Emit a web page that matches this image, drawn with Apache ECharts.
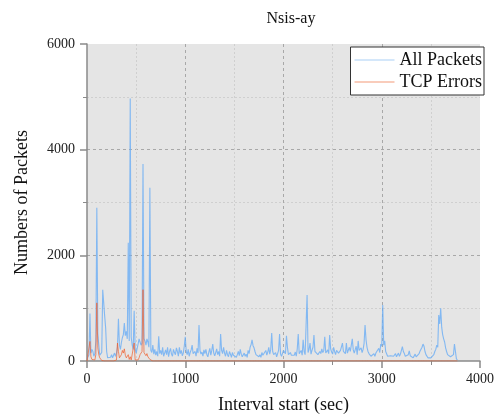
<!DOCTYPE html>
<html>
<head>
<meta charset="utf-8">
<script src="https://cdn.jsdelivr.net/npm/echarts@6/dist/echarts.min.js"></script>
<style>
  html, body { margin: 0; padding: 0; background: #ffffff; }
  #chart { width: 500px; height: 416px; }
</style>
</head>
<body>
<div id="chart"></div>
<script>
// Sampling step of the capture (seconds per interval)
const intervalStep = 10;

// All packets per interval, one row per 100 s
const allPackets = [
  40, 60, 120, 900, 150, 220, 180, 90, 140, 380,
  2900, 520, 300, 110, 80, 160, 1350, 1100, 850, 620,
  180, 60, 90, 50, 70, 120, 60, 80, 150, 90,
  150, 260, 800, 300, 220, 350, 440, 500, 720, 480,
  560, 420, 2240, 380, 4970, 450, 300, 220, 950, 240,
  150, 180, 320, 420, 360, 300, 340, 3730, 420, 380,
  300, 420, 360, 260, 3280, 200, 160, 300, 130, 220,
  110, 180, 90, 470, 140, 200, 120, 260, 90, 150,
  210, 120, 260, 80, 180, 240, 130, 90, 220, 160,
  120, 250, 180, 90, 260, 140, 200, 100, 150, 280,
  460, 180, 120, 220, 90, 160, 210, 300, 140, 110,
  180, 90, 240, 150, 680, 200, 130, 170, 90, 210,
  140, 220, 120, 80, 170, 240, 110, 200, 320, 150,
  100, 160, 230, 120, 180, 90, 510, 200, 140, 260,
  150, 90, 200, 120, 80, 180, 130, 70, 160, 110,
  90, 140, 70, 120, 180, 100, 220, 130, 80, 110,
  150, 90, 130, 70, 200, 140, 260, 310, 400, 290,
  250, 180, 120, 90, 140, 80, 120, 70, 160, 110,
  90, 140, 200, 110, 170, 260, 130, 220, 530, 180,
  120, 90, 160, 80, 140, 200, 510, 130, 90, 110,
  200, 180, 140, 475, 260, 120, 90, 160, 110, 80,
  140, 110, 170, 90, 230, 510, 140, 120, 200, 110,
  400, 180, 120, 90, 1250, 160, 220, 340, 130, 200,
  260, 490, 180, 150, 210, 120, 90, 180, 140, 230,
  160, 200, 460, 150, 180, 210, 140, 490, 230, 170,
  130, 260, 180, 120, 200, 230, 150, 140, 200, 220,
  340, 180, 210, 140, 340, 150, 120, 260, 180, 300,
  420, 210, 150, 180, 280, 120, 380, 200, 170, 250,
  160, 220, 330, 680, 400, 260, 180, 140, 120, 90,
  110, 80, 140, 90, 150, 120, 180, 240, 160, 320,
  280, 1060, 300, 380, 180, 150, 90, 120, 80, 100,
  70, 120, 90, 60, 140, 80, 110, 150, 90, 130,
  200, 270, 180, 140, 90, 110, 80, 120, 190, 100,
  70, 110, 60, 90, 130, 80, 60, 110, 140, 190,
  220, 260, 320, 280, 180, 120, 90, 60, 80, 50,
  60, 90, 70, 120, 180, 220, 300, 260, 870, 700,
  1000, 640, 500, 420, 360, 250, 180, 120, 90, 140,
  80, 100, 60, 120, 320, 180, 40, 20
];

// TCP errors per interval, one row per 100 s
const tcpErrors = [
  0, 10, 30, 370, 80, 30, 10, 0, 20, 120,
  1100, 250, 120, 60, 30, 10, 20, 10, 0, 0,
  0, 0, 0, 0, 0, 10, 0, 0, 0, 0,
  20, 340, 180, 60, 90, 120, 200, 150, 230, 110,
  60, 40, 120, 30, 80, 20, 10, 0, 340, 20,
  10, 0, 20, 60, 120, 150, 180, 1350, 160, 130,
  100, 140, 80, 50, 30, 20, 10, 0, 0, 0,
  0, 0, 0, 0, 0, 0, 0, 0, 0, 0,
  0, 0, 0, 0, 0, 0, 0, 0, 0, 0,
  0, 0, 0, 0, 0, 0, 0, 0, 0, 0,
  0, 0, 0, 0, 0, 0, 0, 0, 0, 0,
  0, 0, 0, 0, 0, 0, 0, 0, 0, 0,
  0, 0, 0, 0, 0, 0, 0, 0, 0, 0,
  0, 0, 0, 0, 0, 0, 0, 0, 0, 0,
  0, 0, 0, 0, 0, 0, 0, 0, 0, 0,
  0, 0, 0, 0, 0, 0, 0, 0, 0, 0,
  0, 0, 0, 0, 0, 0, 0, 0, 0, 0,
  0, 0, 0, 0, 0, 0, 0, 0, 0, 0,
  0, 0, 0, 0, 0, 0, 0, 0, 0, 0,
  0, 0, 0, 0, 0, 0, 0, 0, 0, 0,
  0, 0, 0, 0, 0, 0, 0, 0, 0, 0,
  0, 0, 0, 0, 0, 0, 0, 0, 0, 0,
  0, 0, 0, 0, 0, 0, 0, 0, 0, 0,
  0, 0, 0, 0, 0, 0, 0, 0, 0, 0,
  0, 0, 0, 0, 0, 0, 0, 0, 0, 0,
  0, 0, 0, 0, 0, 0, 0, 0, 0, 0,
  0, 0, 0, 0, 0, 0, 0, 0, 0, 0,
  0, 0, 0, 0, 0, 0, 0, 0, 0, 0,
  0, 0, 0, 0, 0, 0, 0, 0, 0, 0,
  0, 0, 0, 0, 0, 0, 0, 0, 0, 0,
  0, 0, 0, 0, 0, 0, 0, 0, 0, 0,
  0, 0, 0, 0, 0, 0, 0, 0, 0, 0,
  0, 0, 0, 0, 0, 0, 0, 0, 0, 0,
  0, 0, 0, 0, 0, 0, 0, 0, 0, 0,
  0, 0, 0, 0, 0, 0, 0, 0, 0, 0,
  0, 0, 0, 0, 0, 0, 0, 0, 0, 0,
  0, 0, 0, 0, 0, 0, 0, 0, 0, 0,
  0, 0, 0, 0, 0, 0, 0, 0
];

const seriesNames = ['All Packets', 'TCP Errors'];
const titleText = 'Nsis-ay';
const xAxisTitle = 'Interval start (sec)';
const yAxisTitle = 'Numbers of Packets';

const serif = '"Liberation Serif", "DejaVu Serif", serif';
const gridMajor = '#a8a8a8';
const hidden = 'rgba(0,0,0,0)';

function toPoints(values) {
  return values.map((v, i) => [i * intervalStep, v]);
}

const chart = echarts.init(document.getElementById('chart'), null, { renderer: 'canvas' });

chart.setOption({
  animation: false,
  backgroundColor: '#ffffff',
  textStyle: { fontFamily: serif },
  title: {
    text: titleText,
    left: 286,
    textAlign: 'center',
    top: 6,
    textStyle: { fontFamily: serif, fontSize: 16, fontWeight: 'normal', color: '#111' }
  },
  legend: {
    orient: 'vertical',
    right: 16,
    top: 47,
    itemWidth: 40,
    itemHeight: 1,
    itemGap: 4,
    padding: [4, 2, 4, 4],
    backgroundColor: '#ffffff',
    borderColor: '#333333',
    borderWidth: 1,
    borderRadius: 0,
    icon: 'rect',
    textStyle: { fontFamily: serif, fontSize: 18, color: '#111' },
    data: [
      { name: seriesNames[0], itemStyle: { color: '#a9cff5' } },
      { name: seriesNames[1], itemStyle: { color: '#f49a78' } }
    ]
  },
  grid: {
    left: 87,
    right: 20,
    top: 44,
    bottom: 55,
    outerBoundsMode: 'none',
    containLabel: false,
    show: true,
    backgroundColor: '#e5e5e5',
    borderWidth: 0
  },
  xAxis: {
    type: 'value',
    min: 0,
    max: 4000,
    interval: 1000,
    name: xAxisTitle,
    nameLocation: 'middle',
    nameGap: 35,
    nameTextStyle: { fontFamily: serif, fontSize: 18, color: '#111' },
    axisLine: { show: true, onZero: false, lineStyle: { color: '#8a8a8a', width: 1.5 } },
    axisTick: { show: true, inside: false, length: 7, lineStyle: { color: '#8a8a8a', width: 1.5 } },
    minorTick: { show: true, splitNumber: 2, length: 4, lineStyle: { color: '#8a8a8a', width: 1 } },
    axisLabel: { fontFamily: serif, fontSize: 14, color: '#222', margin: 11, formatter: v => String(v) },
    splitLine: { show: true, lineStyle: { color: [hidden, gridMajor, gridMajor, gridMajor, hidden], type: [3, 3], width: 1 } },
    minorSplitLine: { show: true, lineStyle: { color: '#cfcfcf', type: [2, 2], width: 1 } }
  },
  yAxis: {
    type: 'value',
    min: 0,
    max: 6000,
    interval: 2000,
    name: yAxisTitle,
    nameLocation: 'middle',
    nameGap: 56,
    nameTextStyle: { fontFamily: serif, fontSize: 18, color: '#111' },
    axisLine: { show: true, lineStyle: { color: '#8a8a8a', width: 1.5 } },
    axisTick: { show: true, inside: false, length: 7, lineStyle: { color: '#8a8a8a', width: 1.5 } },
    minorTick: { show: true, splitNumber: 2, length: 4, lineStyle: { color: '#8a8a8a', width: 1 } },
    axisLabel: { fontFamily: serif, fontSize: 14, color: '#222', margin: 12, formatter: v => String(v) },
    splitLine: { show: true, lineStyle: { color: [hidden, gridMajor, gridMajor, hidden], type: [3, 3], width: 1 } },
    minorSplitLine: { show: true, lineStyle: { color: '#cfcfcf', type: [2, 2], width: 1 } }
  },
  series: [
    {
      name: seriesNames[0],
      type: 'line',
      data: toPoints(allPackets),
      showSymbol: false,
      symbol: 'none',
      lineStyle: { color: 'rgba(105,172,245,0.8)', width: 1.1 },
      itemStyle: { color: 'rgba(105,172,245,0.8)' },
      z: 2
    },
    {
      name: seriesNames[1],
      type: 'line',
      data: toPoints(tcpErrors),
      showSymbol: false,
      symbol: 'none',
      lineStyle: { color: 'rgba(240,95,45,0.7)', width: 1 },
      itemStyle: { color: 'rgba(240,95,45,0.7)' },
      z: 3
    }
  ]
});
</script>
</body>
</html>
